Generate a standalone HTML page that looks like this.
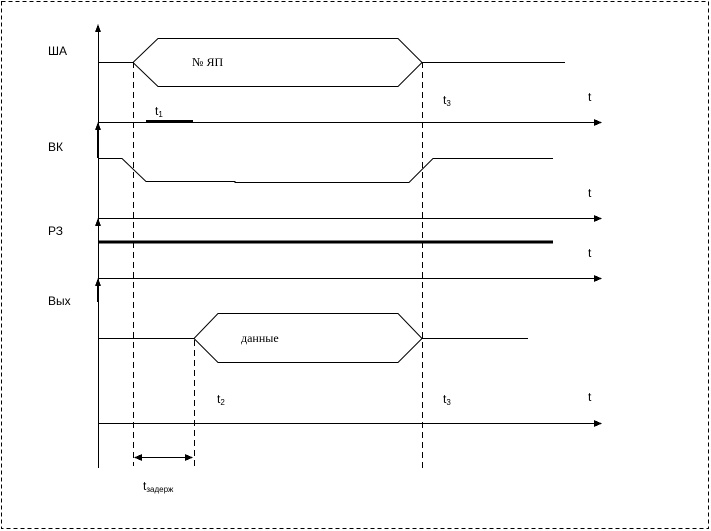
<!DOCTYPE html>
<html><head><meta charset="utf-8"><style>
html,body{margin:0;padding:0;background:#fff;}
svg{display:block;}
text{font-family:"Liberation Sans",sans-serif;font-size:12px;fill:#000;}
</style></head><body>
<svg width="711" height="531" xmlns="http://www.w3.org/2000/svg" shape-rendering="crispEdges">
<rect x="1.5" y="1.5" width="707" height="527" fill="none" stroke="#000" stroke-dasharray="4,3"/>
<g stroke="#000" fill="none">
<line x1="98.5" y1="28" x2="98.5" y2="468"/>
<line x1="98" y1="122.5" x2="595" y2="122.5"/>
<line x1="98" y1="218.5" x2="595" y2="218.5"/>
<line x1="98" y1="278.5" x2="595" y2="278.5"/>
<line x1="98" y1="423.5" x2="595" y2="423.5"/>
<line x1="98" y1="126" x2="98" y2="158" stroke-width="2"/>
<line x1="98" y1="283" x2="98" y2="302" stroke-width="2"/>
<g shape-rendering="auto">
<polyline points="98,62.5 133,62.5 158,38.5 398,38.5 422,62.5 565,62.5"/>
<polyline points="133,62.5 158,86.5 398,86.5 422,62.5"/>
<polyline points="98,158.5 122,158.5 146,181.5 235,181.5 235,182.5 409,182.5 433,158.5 553,158.5"/>
<polyline points="98,338.5 194,338.5 218,313.5 398,313.5 422,338.5 528,338.5"/>
<polyline points="194,338.5 218,362.5 398,362.5 422,338.5"/>
</g>
<line x1="146" y1="121" x2="193" y2="121" stroke-width="2"/>
<line x1="98" y1="242" x2="553" y2="242" stroke-width="3"/>
<g stroke-dasharray="6,4">
<line x1="133.5" y1="62" x2="133.5" y2="466"/>
<line x1="194.5" y1="340" x2="194.5" y2="468"/>
<line x1="422.5" y1="62" x2="422.5" y2="468"/>
</g>
<line x1="140" y1="457.5" x2="188" y2="457.5"/>
</g>
<g fill="#000">
<polygon points="98,24 95,32 101,32"/>
<polygon points="98,122 95,130 101,130"/>
<polygon points="98,218 95,226 101,226"/>
<polygon points="98,278 95,286 101,286"/>
<polygon points="602,122.5 594,119 594,126"/>
<polygon points="602,218.5 594,215 594,222"/>
<polygon points="602,278.5 594,275 594,282"/>
<polygon points="602,423.5 594,420 594,427"/>
<polygon points="134,457.5 142,454 142,461"/>
<polygon points="193,457.5 185,454 185,461"/>
</g>
<text x="48" y="55">ША</text>
<text x="48" y="151">ВК</text>
<text x="48" y="235">РЗ</text>
<text x="48" y="305">Вых</text>
<text x="192" y="66" style="font-family:'Liberation Serif',serif">№ ЯП</text>
<text x="241" y="342" style="font-family:'Liberation Serif',serif">данные</text>
<text x="155" y="115" font-size="11">t<tspan font-size="8" dy="2">1</tspan></text>
<text x="443" y="104" font-size="11">t<tspan font-size="8" dy="2">3</tspan></text>
<text x="443" y="403" font-size="11">t<tspan font-size="8" dy="2">3</tspan></text>
<text x="217" y="403" font-size="11">t<tspan font-size="8" dy="2">2</tspan></text>
<text x="143" y="490" font-size="11">t<tspan font-size="8" dy="2">задерж</tspan></text>
<text x="588" y="101">t</text>
<text x="588" y="197">t</text>
<text x="588" y="257">t</text>
<text x="588" y="401">t</text>
</svg>
</body></html>
